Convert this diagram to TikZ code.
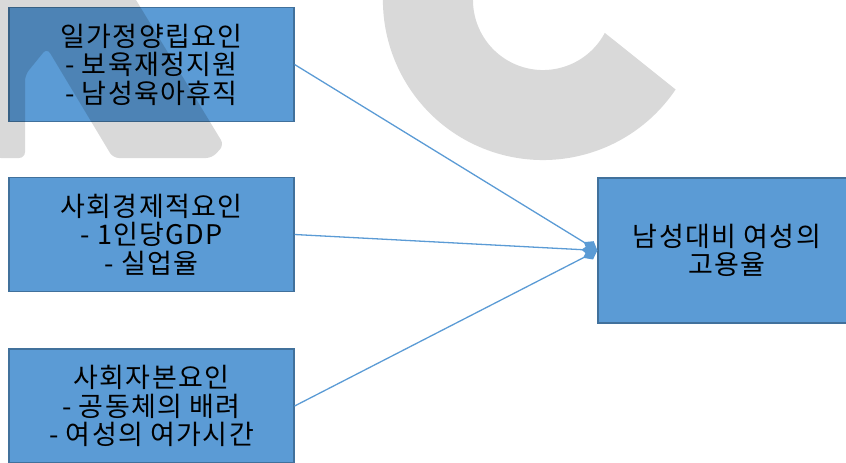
\documentclass[tikz,border=0pt]{standalone}
\usepackage{fontspec}
\setmainfont{Noto Sans CJK KR}[LetterSpace=5]
\usetikzlibrary{arrows.meta}
\definecolor{boxblue}{HTML}{5B9BD5}
\definecolor{boxline}{HTML}{41719C}
\tikzset{
    factor/.style={draw=boxline, fill=boxblue, line width=1.2pt, align=center,
        minimum width=285pt, minimum height=114pt, inner sep=0pt,
        font=\fontsize{27}{28.5}\selectfont},
    link/.style={draw=boxblue, line width=1.3pt, -{Diamond[length=16pt,width=12pt]}},
    wmark/.style={fill=black, fill opacity=0.15}
}
\begin{document}
\begin{tikzpicture}[x=1pt, y=-1pt]
    \clip (0,0) rectangle (846,463);
    % factor boxes
    \node[factor] (worklife) at (151.5,64.5) {일가정양립요인\\- 보육재정지원\\- 남성육아휴직};
    \node[factor] (socioecon) at (151.5,234.5) {사회경제적요인\\- 1인당GDP\\- 실업율};
    \node[factor] (socialcap) at (151.5,406) {사회자본요인\\- 공동체의 배려\\- 여성의 여가시간};
    % outcome box
    \node[factor, minimum width=258pt, minimum height=145pt] (ratio) at (727,250.5) {남성대비 여성의\\고용율};
    % links
    \draw[link] (worklife.east) -- (ratio.west);
    \draw[link] (socioecon.east) -- (ratio.west);
    \draw[link] (socialcap.east) -- (ratio.west);
    % watermark
    \fill[wmark, rounded corners=6] (-5,-5) -- (133,-5) -- (224,145) -- (212,158) -- (113,158)
        -- (47,48) -- (25,75) -- (25,158) -- (-5,158) -- cycle;
    \fill[wmark] (392.6,-54.7) arc[start angle=200, end angle=34, radius=160]
        -- (604.8,32.9) arc[start angle=28, end angle=200, radius=70] -- cycle;
\end{tikzpicture}
\end{document}
